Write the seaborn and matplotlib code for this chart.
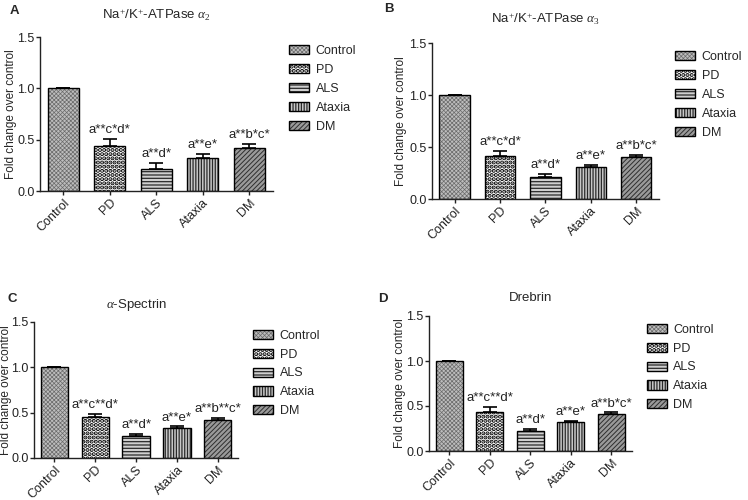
import matplotlib.pyplot as plt
import matplotlib.patches as mpatches
from matplotlib.colors import to_rgba
import seaborn as sns

groups = ["Control", "PD", "ALS", "Ataxia", "DM"]

titles = [r"Na$^{+}$/K$^{+}$-ATPase $\alpha_2$", r"Na$^{+}$/K$^{+}$-ATPase $\alpha_3$",
          r"$\alpha$-Spectrin", "Drebrin"]
panel_letters = ["A", "B", "C", "D"]

atp_a2 = [1.00, 0.44, 0.21, 0.32, 0.42]
atp_a2_err = [0.0, 0.065, 0.06, 0.04, 0.04]
atp_a3 = [1.00, 0.415, 0.21, 0.31, 0.40]
atp_a3_err = [0.0, 0.045, 0.03, 0.015, 0.02]
spectrin = [1.00, 0.45, 0.245, 0.33, 0.42]
spectrin_err = [0.0, 0.04, 0.022, 0.02, 0.022]
drebrin = [1.00, 0.437, 0.22, 0.32, 0.41]
drebrin_err = [0.0, 0.05, 0.03, 0.018, 0.018]

labels_a2 = ["", "a**c*d*", "a**d*", "a**e*", "a**b*c*"]
labels_a3 = ["", "a**c*d*", "a**d*", "a**e*", "a**b*c*"]
labels_spectrin = ["", "a**c**d*", "a**d*", "a**e*", "a**b**c*"]
labels_drebrin = ["", "a**c**d*", "a**d*", "a**e*", "a**b*c*"]

panels = [
    (atp_a2, atp_a2_err, labels_a2),
    (atp_a3, atp_a3_err, labels_a3),
    (spectrin, spectrin_err, labels_spectrin),
    (drebrin, drebrin_err, labels_drebrin),
]

# face colour, hatch colour, hatch pattern, hatch line width
styles = {
    "Control": ("#bdbdbd", "#6a6a6a", "xxxxxxxx", 0.5),
    "PD": ("white", "#000000", "....", 2.1),
    "ALS": ("#cfcfcf", "#2a2a2a", "-----", 0.9),
    "Ataxia": ("#c8c8c8", "#2a2a2a", "||||||", 0.9),
    "DM": ("#9a9a9a", "#2e2e2e", "///////", 0.7),
}

# axes boxes [left, bottom, width, height] in figure coords
boxes = [
    [0.0535, 0.618, 0.311, 0.308],
    [0.5775, 0.602, 0.3035, 0.312],
    [0.0455, 0.084, 0.273, 0.272],
    [0.5735, 0.098, 0.271, 0.270],
]
title_pads = [13, 14, 10, 11]
ylabel_x = [-0.10, -0.11, -0.11, -0.115]
letter_pos = [(0.013, 0.990), (0.513, 0.995), (0.010, 0.415), (0.505, 0.415)]


def style_patch(patch, g):
    fc, hc, hatch, hlw = styles[g]
    patch.set_facecolor(fc)
    patch.set_edgecolor("black")
    patch.set_hatch(hatch)
    patch._hatch_color = to_rgba(hc)
    if hasattr(patch, "set_hatch_linewidth"):
        patch.set_hatch_linewidth(hlw)


sns.set_theme(style="ticks")
plt.rcParams["font.family"] = ["Liberation Sans", "DejaVu Sans"]
plt.rcParams["mathtext.fontset"] = "custom"
plt.rcParams["mathtext.rm"] = "Liberation Serif"
plt.rcParams["mathtext.it"] = "Liberation Serif:italic"
plt.rcParams["hatch.linewidth"] = 0.7

fig = plt.figure(figsize=(7.48, 5.0), dpi=100)

for i, (vals, errs, ann) in enumerate(panels):
    ax = fig.add_axes(boxes[i])
    sns.barplot(x=groups, y=vals, hue=groups, order=groups, ax=ax, width=0.67,
                legend=False, linewidth=1.0, edgecolor="black", dodge=False)
    for patch, g in zip(ax.patches, groups):
        style_patch(patch, g)
    xs = [p.get_x() + p.get_width() / 2 for p in ax.patches[:len(groups)]]
    ax.errorbar(xs, vals, yerr=[[0] * len(errs), errs], fmt="none", ecolor="black",
                elinewidth=1.2, capsize=5, capthick=1.2)
    for x, v, e, t in zip(xs, vals, errs, ann):
        if t:
            ax.text(x, v + e + 0.03, t, ha="center", va="bottom", fontsize=9.5, color="#222222")
    ax.set_ylim(0, 1.5)
    ax.set_xlim(-0.5, 4.5)
    ax.set_yticks([0.0, 0.5, 1.0, 1.5])
    ax.set_yticklabels(["0.0", "0.5", "1.0", "1.5"])
    ax.tick_params(axis="both", labelsize=9, length=3, width=1, pad=1, colors="#222222")
    ax.set_xticks(range(len(groups)))
    ax.set_xticklabels(groups, rotation=45, ha="right", rotation_mode="anchor")
    ax.set_ylabel("Fold change over control", fontsize=8.5)
    ax.yaxis.set_label_coords(ylabel_x[i], 0.5)
    ax.set_xlabel("")
    for s in ["left", "bottom"]:
        ax.spines[s].set_linewidth(1.0)
        ax.spines[s].set_color("#222222")
    sns.despine(ax=ax)
    ax.set_title(titles[i], fontsize=9.5, pad=title_pads[i])

    handles = [mpatches.Patch(label=g) for g in groups]
    for h, g in zip(handles, groups):
        style_patch(h, g)
    leg = ax.legend(handles=handles, loc="upper left", bbox_to_anchor=(1.05, 0.98),
                    frameon=False, fontsize=9, handlelength=1.6, handleheight=0.75,
                    handletextpad=0.5, labelspacing=0.55, borderaxespad=0)
    for lh, g in zip(leg.legend_handles, groups):
        style_patch(lh, g)

for letter, (lx, ly) in zip(panel_letters, letter_pos):
    fig.text(lx, ly, letter, fontsize=9.5, fontweight="bold", va="top")

fig.savefig("out.png", dpi=100)
